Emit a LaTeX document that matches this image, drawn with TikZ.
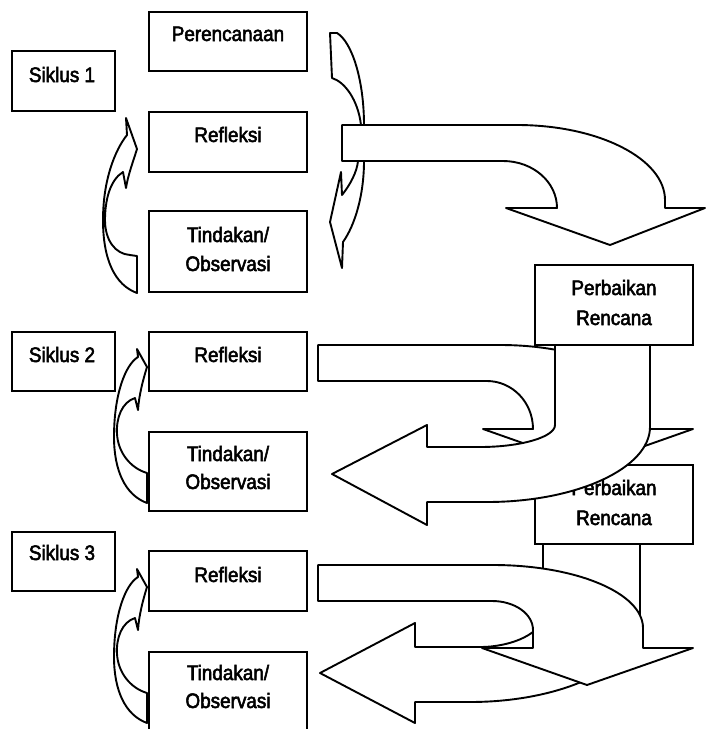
\documentclass[tikz,border=0pt]{standalone}
\usepackage{fontspec}
\newfontfamily\lab[FakeStretch=0.9,FakeBold=2.5]{Liberation Sans}
\begin{document}
\begin{tikzpicture}[x=1pt,y=-1pt,
  box/.style={draw, line width=2.4pt, rectangle, inner sep=0pt, outer sep=0pt, fill=white},
  lbl/.style={font=\lab\fontsize{21}{24}\selectfont, inner sep=0pt, anchor=base},
  arr/.style={draw, fill=white, line width=1.9pt, line join=round}]
\useasboundingbox (0,0) rectangle (706,729);
\clip (0,0) rectangle (706,729);
\fill[white] (0,0) rectangle (706,729);

% ---------- boxes ----------
\node[box, minimum width=103pt, minimum height=60pt] (sik1) at (63.5,81) {};
\node[box, minimum width=158pt, minimum height=59pt] (per)  at (228,41.5) {};
\node[box, minimum width=158pt, minimum height=60pt] (ref1) at (228,142) {};
\node[box, minimum width=158pt, minimum height=81pt] (tin1) at (228,251.5) {};
\node[box, minimum width=158pt, minimum height=80pt] (pb1)  at (614,305) {};
\node[box, minimum width=103pt, minimum height=59pt] (sik2) at (63.5,361.5) {};
\node[box, minimum width=158pt, minimum height=59pt] (ref2) at (228,361.5) {};
\node[box, minimum width=158pt, minimum height=79pt] (tin2) at (228,471.5) {};
\node[box, minimum width=158pt, minimum height=79pt] (pb2)  at (614,504.5) {};
\node[box, minimum width=103pt, minimum height=59pt] (sik3) at (63.5,561.5) {};
\node[box, minimum width=158pt, minimum height=60pt] (ref3) at (228,581) {};
\node[box, minimum width=158pt, minimum height=96pt] (tin3) at (228,700) {};

% ---------- labels ----------
\node[lbl] (tsik1) at (62,82) {Siklus 1};
\node[lbl] (tper)  at (228,41) {Perencanaan};
\node[lbl] (tref1) at (228,142) {Refleksi};
\node[lbl] (ttin1a) at (228,242) {Tindakan/};
\node[lbl] (ttin1b) at (228,271) {Observasi};
\node[lbl] (tpb1a) at (614,295) {Perbaikan};
\node[lbl] (tpb1b) at (614,325) {Rencana};
\node[lbl] (tsik2) at (62,362) {Siklus 2};
\node[lbl] (tref2) at (228,362) {Refleksi};
\node[lbl] (ttin2a) at (228,461) {Tindakan/};
\node[lbl] (ttin2b) at (228,489) {Observasi};
\node[lbl] (tpb2a) at (614,495) {Perbaikan};
\node[lbl] (tpb2b) at (614,525) {Rencana};
\node[lbl] (tsik3) at (62,560) {Siklus 3};
\node[lbl] (tref3) at (228,582) {Refleksi};
\node[lbl] (ttin3a) at (228,680) {Tindakan/};
\node[lbl] (ttin3b) at (228,708) {Observasi};

% ---------- left curved arrows (Tindakan -> Refleksi) ----------
\path[arr] (126,118) -- (137,149) .. controls (133,162) and (128,175) .. (126,188)
  -- (123,172) .. controls (110,180) and (105,200) .. (105,220)
  .. controls (105,240) and (115,254) .. (130,255) -- (137,256) -- (137,293)
  .. controls (115,285) and (103,260) .. (103,220)
  .. controls (103,180) and (115,150) .. (127,135) -- cycle;

\path[arr] (137,349) -- (147,367) .. controls (143,380) and (139,395) .. (138,410)
  -- (135,398) .. controls (122,402) and (116,418) .. (117,434)
  .. controls (118,452) and (130,468) .. (147,473) -- (147,503)
  .. controls (125,495) and (114,470) .. (114,437)
  .. controls (114,395) and (125,365) .. (138,357) -- cycle;

\begin{scope}[shift={(0,220)}]
\path[arr] (137,349) -- (147,367) .. controls (143,380) and (139,395) .. (138,410)
  -- (135,398) .. controls (122,402) and (116,418) .. (117,434)
  .. controls (118,452) and (130,468) .. (147,473) -- (147,503)
  .. controls (125,495) and (114,470) .. (114,437)
  .. controls (114,395) and (125,365) .. (138,357) -- cycle;
\end{scope}

% ---------- right curved arrow of Siklus 1 (Perencanaan -> Tindakan) ----------
\path[arr] (330,33) -- (337,33) .. controls (352,42) and (364,80) .. (364,125)
  -- (364,161) .. controls (364,195) and (355,225) .. (343,242)
  -- (342,268) -- (330,222) -- (341,172) -- (342,195)
  .. controls (350,185) and (357,172) .. (358,161) -- (361,125)
  .. controls (358,100) and (345,82) .. (332,78) -- cycle;

% ---------- Refleksi 1 -> Perbaikan Rencana ----------
\path[arr] (342,125) -- (517,125) .. controls (599,125) and (665,159) .. (665,200)
  -- (665,208) -- (705,208) -- (610,245) -- (506,208) -- (557,208)
  .. controls (557,182) and (533,161) .. (503,161) -- (342,161) -- cycle;

% ---------- Refleksi 2 -> right/down ----------
\path[arr] (318,345) -- (500,345) .. controls (582,345) and (645,374) .. (645,410)
  -- (645,429) -- (693,429) -- (588,466) -- (483,429) -- (533,429)
  .. controls (533,402) and (512,381) .. (487,381) -- (318,381) -- cycle;

% ---------- Perbaikan Rencana 1 -> Tindakan 2 (U-turn) ----------
\path[arr] (555,345) -- (555,425) .. controls (555,437) and (521,447) .. (480,447)
  -- (427,447) -- (427,425) -- (332,474) -- (427,525) -- (427,502) -- (487,502)
  .. controls (577,502) and (650,468) .. (650,427) -- (650,345) -- cycle;

% ---------- Perbaikan Rencana 2 -> Tindakan 3 (U-turn) ----------
\path[arr] (543,544) -- (543,615) .. controls (543,633) and (512,647) .. (480,647)
  -- (415,647) -- (415,623) -- (320,673) -- (415,723) -- (415,702) -- (470,702)
  .. controls (564,702) and (640,665) .. (640,620) -- (640,544) -- cycle;

% ---------- Refleksi 3 -> right/down ----------
\path[arr] (318,565) -- (493,565) .. controls (576,565) and (643,593) .. (643,628)
  -- (643,648) -- (693,648) -- (587,685) -- (482,648) -- (533,648) -- (533,630)
  .. controls (533,614) and (515,601) .. (492,601) -- (318,601) -- cycle;
\end{tikzpicture}
\end{document}
